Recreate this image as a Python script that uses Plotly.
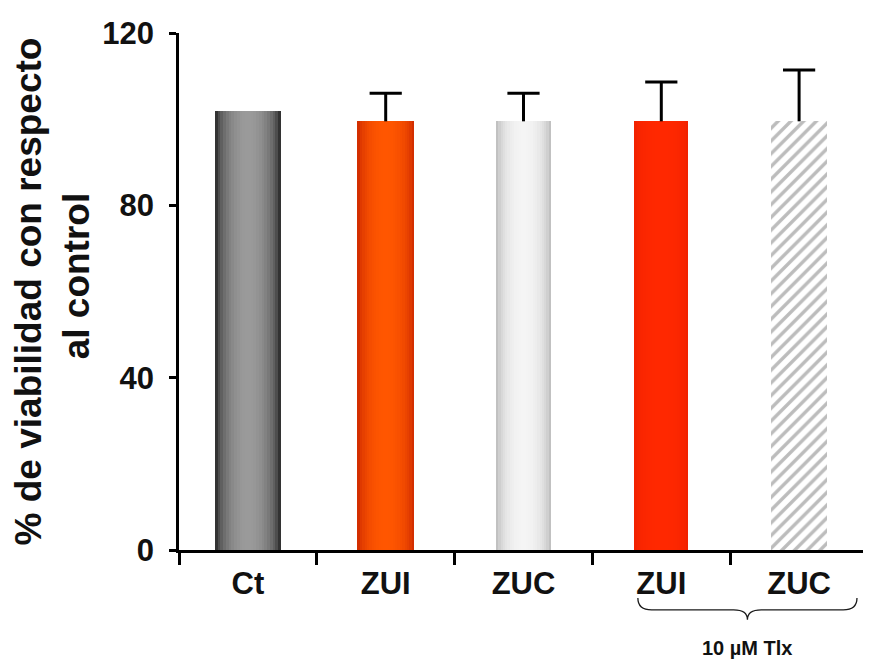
import plotly.graph_objects as go

# ---- data ----
labels = ["Ct", "ZUI", "ZUC", "ZUI", "ZUC"]
values = [102.0, 99.5, 99.5, 99.5, 99.5]
errors = [0.0, 6.5, 6.5, 9.1, 11.9]
has_error = [False, True, True, True, True]
y_ticks = [0, 40, 80, 120]
group_label = "10 µM Tlx"
group_members = [3, 4]

# ---- style ----
bar_widths = [0.48, 0.41, 0.40, 0.39, 0.41]
# (edge colour, centre colour, hatched?)
bar_styles = [
    ("#101010", "#9a9a9a", False),   # Ct
    ("#c42200", "#ff5600", False),   # ZUI
    ("#b0b0b0", "#f5f5f5", False),   # ZUC
    ("#ee2000", "#ff2800", False),   # ZUI + Tlx
    (None, None, True),              # ZUC + Tlx (hatched)
]
N_STRIPS = 24
FONT = "Liberation Sans, Arial, sans-serif"


def hex2rgb(h):
    h = h.lstrip("#")
    return [int(h[i:i + 2], 16) for i in (0, 2, 4)]


def mix(c0, c1, t):
    a, b = hex2rgb(c0), hex2rgb(c1)
    return "rgb({},{},{})".format(*[round(a[i] + (b[i] - a[i]) * t) for i in range(3)])


x = list(range(len(labels)))
fig = go.Figure()

# hatched bars (single layer)
hidx = [i for i in x if bar_styles[i][2]]
fig.add_trace(go.Bar(
    x=hidx, y=[values[i] for i in hidx],
    width=[bar_widths[i] for i in hidx],
    marker=dict(color="white", line=dict(width=0),
                pattern=dict(shape="/", fgcolor="#7a7a7a", bgcolor="white",
                             size=9, solidity=0.38)),
    hoverinfo="skip", showlegend=False,
))

# shaded (cylinder-like) bars: successive strips, each covering from its
# left edge to the bar's right edge, drawn left to right
sidx = [i for i in x if not bar_styles[i][2]]
for j in range(N_STRIPS):
    u = -1 + 2 * (j + 0.5) / N_STRIPS
    t = max(0.0, 1 - u * u) ** 0.55
    widths = [bar_widths[i] * (1 - j / N_STRIPS) for i in sidx]
    offs = [-bar_widths[i] / 2 + bar_widths[i] * j / N_STRIPS for i in sidx]
    fig.add_trace(go.Bar(
        x=sidx, y=[values[i] for i in sidx],
        width=widths, offset=offs,
        marker=dict(color=[mix(bar_styles[i][0], bar_styles[i][1], t) for i in sidx],
                    line=dict(width=0)),
        hoverinfo="skip", showlegend=False,
    ))

# error bars: stem (no caps) + top cap as a marker
err_idx = [i for i in x if has_error[i]]
fig.add_trace(go.Scatter(
    x=err_idx,
    y=[values[i] for i in err_idx],
    mode="markers",
    marker=dict(size=1, opacity=0),
    error_y=dict(type="data", symmetric=False,
                 array=[errors[i] for i in err_idx],
                 arrayminus=[0 for _ in err_idx],
                 color="black", thickness=3, width=0),
    showlegend=False, hoverinfo="skip",
))
fig.add_trace(go.Scatter(
    x=err_idx,
    y=[values[i] + errors[i] for i in err_idx],
    mode="markers",
    marker=dict(symbol="line-ew", size=23, color="black",
                line=dict(color="black", width=3)),
    showlegend=False, hoverinfo="skip",
))

# group brace under the last two categories
g0, g1 = min(group_members), max(group_members)
bx0 = g0 - 0.17
bx1 = g1 + 0.42
tip = (bx0 + bx1) / 2
yt, ym, yb = -0.093, -0.116, -0.135
d = 0.1
path = (f"M {bx0},{yt} Q {bx0},{ym} {bx0+d},{ym} L {tip-d},{ym} "
        f"Q {tip},{ym} {tip},{yb} Q {tip},{ym} {tip+d},{ym} "
        f"L {bx1-d},{ym} Q {bx1},{ym} {bx1},{yt}")
fig.add_shape(type="path", path=path, xref="x", yref="paper",
              line=dict(color="#1a1a1a", width=1.3))
fig.add_annotation(x=tip, y=-0.19, xref="x", yref="paper",
                   text=group_label, showarrow=False, yanchor="middle",
                   font=dict(family=FONT, size=20, color="#111111", weight="bold"))

fig.update_layout(
    width=863, height=656,
    margin=dict(l=171, r=3, t=25, b=114),
    paper_bgcolor="white", plot_bgcolor="white",
    barmode="overlay",
    bargap=0,
    font=dict(family=FONT, color="#111111"),
)
fig.update_xaxes(
    range=[-0.5, len(labels) - 0.5],
    tickmode="array", tickvals=x, ticktext=labels,
    ticks="outside", ticklen=4, tickcolor="rgba(0,0,0,0)",
    tickfont=dict(family=FONT, size=31, color="#111111", weight="bold"),
    minor=dict(tickmode="array", tickvals=[i - 0.5 for i in range(len(labels) + 1)],
               ticks="outside", ticklen=12, tickwidth=2.5, tickcolor="black"),
    showline=True, linecolor="black", linewidth=2.5,
    showgrid=False, zeroline=False, automargin=False,
)
fig.update_yaxes(
    range=[0, 120],
    tickmode="array", tickvals=y_ticks,
    ticks="outside", ticklen=7, tickwidth=2.5, tickcolor="black",
    ticklabelstandoff=9,
    tickfont=dict(family=FONT, size=31, color="#111111", weight="bold"),
    showline=True, linecolor="black", linewidth=2.5,
    showgrid=False, zeroline=False, automargin=False,
    title=dict(text="% de viabilidad con respecto<br>&nbsp;&nbsp;&nbsp;al control",
               font=dict(family=FONT, size=37, color="#111111", weight="bold"),
               standoff=13),
)

fig.write_html("out.html")
